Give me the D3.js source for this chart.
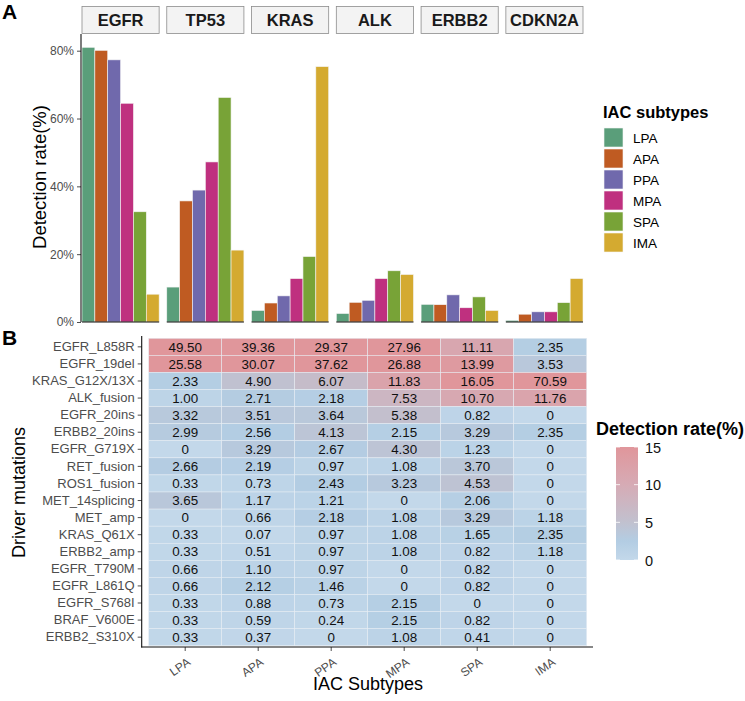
<!DOCTYPE html>
<html lang="en">
<head>
<meta charset="UTF-8">
<title>IAC driver genes</title>
<script src="https://d3js.org/d3.v7.min.js"></script>
<style>
  body { margin: 0; background: #fff; }
  svg { display: block; font-family: "Liberation Sans", Arial, Helvetica, sans-serif; }
</style>
</head>
<body>
<div id="chart"></div>
<script>
// --- data ---
const genes = ["EGFR", "TP53", "KRAS", "ALK", "ERBB2", "CDKN2A"];
const subtypes = ["LPA", "APA", "PPA", "MPA", "SPA", "IMA"];
const subtypeColors = ["#5a9e7a", "#bf5b22", "#7069ac", "#bf307f", "#78a337", "#d4aa30"];

// detection rate (%) per gene, in subtype order
const egfrRates  = [81.0, 80.1, 77.3, 64.5, 32.5, 8.2];
const tp53Rates  = [10.3, 35.7, 38.9, 47.2, 66.2, 21.2];
const krasRates  = [3.4, 5.6, 7.7, 12.8, 19.3, 75.3];
const alkRates   = [2.5, 5.8, 6.4, 12.8, 15.1, 14.0];
const erbb2Rates = [5.2, 5.1, 8.0, 4.2, 7.4, 3.4];
const cdkn2aRates = [0.5, 2.3, 3.0, 3.0, 5.7, 12.8];
const geneRates = [egfrRates, tp53Rates, krasRates, alkRates, erbb2Rates, cdkn2aRates];
const yTicksA = [0, 20, 40, 60, 80];

const mutations = ["EGFR_L858R", "EGFR_19del", "KRAS_G12X/13X", "ALK_fusion", "EGFR_20ins",
  "ERBB2_20ins", "EGFR_G719X", "RET_fusion", "ROS1_fusion", "MET_14splicing", "MET_amp",
  "KRAS_Q61X", "ERBB2_amp", "EGFR_T790M", "EGFR_L861Q", "EGFR_S768I", "BRAF_V600E", "ERBB2_S310X"];
const mutationRates = [
  [49.50, 39.36, 29.37, 27.96, 11.11, 2.35],
  [25.58, 30.07, 37.62, 26.88, 13.99, 3.53],
  [2.33, 4.90, 6.07, 11.83, 16.05, 70.59],
  [1.00, 2.71, 2.18, 7.53, 10.70, 11.76],
  [3.32, 3.51, 3.64, 5.38, 0.82, 0],
  [2.99, 2.56, 4.13, 2.15, 3.29, 2.35],
  [0, 3.29, 2.67, 4.30, 1.23, 0],
  [2.66, 2.19, 0.97, 1.08, 3.70, 0],
  [0.33, 0.73, 2.43, 3.23, 4.53, 0],
  [3.65, 1.17, 1.21, 0, 2.06, 0],
  [0, 0.66, 2.18, 1.08, 3.29, 1.18],
  [0.33, 0.07, 0.97, 1.08, 1.65, 2.35],
  [0.33, 0.51, 0.97, 1.08, 0.82, 1.18],
  [0.66, 1.10, 0.97, 0, 0.82, 0],
  [0.66, 2.12, 1.46, 0, 0.82, 0],
  [0.33, 0.88, 0.73, 2.15, 0, 0],
  [0.33, 0.59, 0.24, 2.15, 0.82, 0],
  [0.33, 0.37, 0, 1.08, 0.41, 0]
];
const colorStops = [0, 2.5, 5, 10, 15];
const colorStopValues = ["#c3d8ea", "#b3cde3", "#c1c1cf", "#d6abb5", "#e0969b"];
const legendTicksB = [0, 5, 10, 15];

const width = 745, height = 701;
const grey = "#4d4d4d";

const svg = d3.select("#chart").append("svg")
  .attr("width", width)
  .attr("height", height);

const color = d3.scaleOrdinal().domain(subtypes).range(subtypeColors);

// ================= Panel A =================
const facetX = d3.scaleBand().domain(genes).range([82, 583]).paddingInner(0.09);
const barX = d3.scaleBand().domain(subtypes).range([0, facetX.bandwidth()]);
const yA = d3.scaleLinear().domain([0, 80]).range([322, 50.7]);

svg.append("text").attr("x", 2).attr("y", 19)
  .attr("font-size", 21).attr("font-weight", "bold").text("A");

const facets = svg.append("g").selectAll("g")
  .data(genes)
  .join("g")
  .attr("transform", d => `translate(${facetX(d)},0)`);

// strips
facets.append("rect")
  .attr("x", 0).attr("y", 6.5)
  .attr("width", facetX.bandwidth()).attr("height", 27)
  .attr("fill", "#f3f3f3").attr("stroke", "#8c8c8c").attr("stroke-width", 0.8);
facets.append("text")
  .attr("x", facetX.bandwidth() / 2).attr("y", 26)
  .attr("text-anchor", "middle")
  .attr("font-size", 16.5).attr("font-weight", "bold").attr("fill", "#1a1a1a")
  .text(d => d);

// bars
facets.selectAll("rect.bar")
  .data((d, i) => geneRates[i].map((v, j) => ({ subtype: subtypes[j], value: v })))
  .join("rect")
  .attr("class", "bar")
  .attr("x", d => barX(d.subtype))
  .attr("width", barX.bandwidth())
  .attr("y", d => yA(d.value))
  .attr("height", d => yA(0) - yA(d.value))
  .attr("fill", d => color(d.subtype))
  .attr("stroke", "#f4f4f4").attr("stroke-width", 0.6);

// x axis line under each facet
facets.append("line")
  .attr("x1", 0).attr("x2", facetX.bandwidth())
  .attr("y1", yA(0)).attr("y2", yA(0))
  .attr("stroke", "#111").attr("stroke-width", 1.1);

// y axis
const yAxisA = svg.append("g")
  .attr("transform", "translate(81,0)")
  .call(d3.axisLeft(yA).tickValues(yTicksA).tickFormat(d => d + "%").tickSize(4).tickSizeOuter(0));
yAxisA.select(".domain").remove();
yAxisA.append("line").attr("x1", 0).attr("x2", 0).attr("y1", 34).attr("y2", yA(0))
  .attr("stroke", "#111").attr("stroke-width", 1.1);
yAxisA.selectAll(".tick line").attr("stroke", grey);
yAxisA.selectAll(".tick text").attr("fill", grey).attr("font-size", 12)
  .attr("font-family", "Liberation Sans, Arial, sans-serif");

svg.append("text")
  .attr("transform", "translate(46,177) rotate(-90)")
  .attr("text-anchor", "middle").attr("font-size", 18.5)
  .text("Detection rate(%)");

// legend A
const legA = svg.append("g").attr("transform", "translate(603,0)");
legA.append("text").attr("x", 0).attr("y", 117.5)
  .attr("font-size", 16.5).attr("font-weight", "bold").text("IAC subtypes");
const legItems = legA.selectAll("g.item").data(subtypes).join("g")
  .attr("class", "item")
  .attr("transform", (d, i) => `translate(1,${128 + i * 21})`);
legItems.append("rect").attr("width", 19).attr("height", 19)
  .attr("fill", d => color(d)).attr("stroke", "#f4f4f4").attr("stroke-width", 0.6);
legItems.append("text").attr("x", 29).attr("y", 14.5)
  .attr("font-size", 13.5).text(d => d);

// ================= Panel B =================
const xB = d3.scaleBand().domain(subtypes).range([148.7, 586.7]);
const yB = d3.scaleBand().domain(mutations).range([338.3, 645.7]);
const fill = d3.scaleLinear().domain(colorStops).range(colorStopValues).clamp(true);

svg.append("text").attr("x", 2).attr("y", 345)
  .attr("font-size", 21).attr("font-weight", "bold").text("B");

const cells = [];
mutations.forEach((m, i) => subtypes.forEach((s, j) => cells.push({ m, s, v: mutationRates[i][j] })));

svg.append("g").selectAll("rect")
  .data(cells)
  .join("rect")
  .attr("x", d => xB(d.s)).attr("y", d => yB(d.m))
  .attr("width", xB.bandwidth()).attr("height", yB.bandwidth())
  .attr("fill", d => fill(d.v))
  .attr("stroke", "#e8eef4").attr("stroke-width", 0.5);

svg.append("g").selectAll("text")
  .data(cells)
  .join("text")
  .attr("x", d => xB(d.s) + xB.bandwidth() / 2)
  .attr("y", d => yB(d.m) + yB.bandwidth() / 2 + 4.7)
  .attr("text-anchor", "middle").attr("font-size", 13.4).attr("fill", "#111")
  .text(d => d.v === 0 ? "0" : d.v.toFixed(2));

// axes B
const yAxisB = svg.append("g").attr("transform", "translate(141.7,0)")
  .call(d3.axisLeft(yB).tickSize(4).tickSizeOuter(0));
yAxisB.select(".domain").remove();
yAxisB.selectAll(".tick line").attr("stroke", grey);
yAxisB.selectAll(".tick text").attr("fill", grey).attr("font-size", 13)
  .attr("font-family", "Liberation Sans, Arial, sans-serif");

const xAxisB = svg.append("g").attr("transform", "translate(0,647)")
  .call(d3.axisBottom(xB).tickSize(4).tickSizeOuter(0));
xAxisB.select(".domain").remove();
xAxisB.selectAll(".tick line").attr("stroke", grey);
xAxisB.selectAll(".tick text")
  .attr("fill", grey).attr("font-size", 12)
  .attr("font-family", "Liberation Sans, Arial, sans-serif")
  .attr("text-anchor", "end")
  .attr("dy", null).attr("y", 0)
  .attr("transform", "translate(6,17) rotate(-35)");

svg.append("line").attr("x1", 141.7).attr("x2", 141.7).attr("y1", 336).attr("y2", 647.5)
  .attr("stroke", "#111").attr("stroke-width", 1.1);
svg.append("line").attr("x1", 141.2).attr("x2", 593).attr("y1", 647).attr("y2", 647)
  .attr("stroke", "#111").attr("stroke-width", 1.1);

svg.append("text")
  .attr("transform", "translate(25,492.5) rotate(-90)")
  .attr("text-anchor", "middle").attr("font-size", 18)
  .text("Driver mutations");
svg.append("text")
  .attr("x", 368).attr("y", 690)
  .attr("text-anchor", "middle").attr("font-size", 18)
  .text("IAC Subtypes");

// colour bar legend
const cbY = d3.scaleLinear().domain([0, 15]).range([560, 447]);
const grad = svg.append("defs").append("linearGradient")
  .attr("id", "cb").attr("x1", 0).attr("y1", 1).attr("x2", 0).attr("y2", 0);
grad.selectAll("stop").data(colorStops).join("stop")
  .attr("offset", d => d / 15)
  .attr("stop-color", d => fill(d));

svg.append("text").attr("x", 596).attr("y", 435)
  .attr("font-size", 18).attr("font-weight", "bold").text("Detection rate(%)");
svg.append("rect").attr("x", 616).attr("y", cbY(15))
  .attr("width", 22).attr("height", cbY(0) - cbY(15))
  .attr("fill", "url(#cb)");
const cbTicks = svg.append("g").selectAll("g").data(legendTicksB).join("g");
cbTicks.append("line").attr("x1", 616).attr("x2", 620)
  .attr("y1", d => cbY(d)).attr("y2", d => cbY(d)).attr("stroke", "#fff").attr("stroke-width", 0.8);
cbTicks.append("line").attr("x1", 634).attr("x2", 638)
  .attr("y1", d => cbY(d)).attr("y2", d => cbY(d)).attr("stroke", "#fff").attr("stroke-width", 0.8);
cbTicks.append("text").attr("x", 645).attr("y", d => cbY(d) + 5.5)
  .attr("font-size", 14.5).attr("fill", "#111").text(d => d);
</script>
</body>
</html>
